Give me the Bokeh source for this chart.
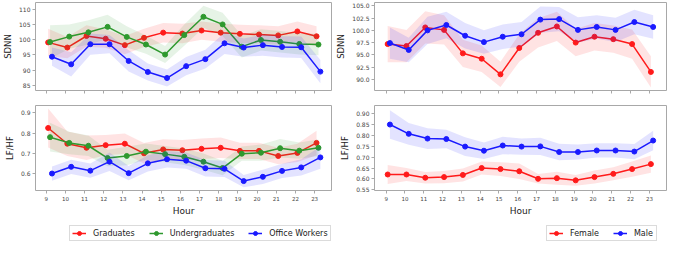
from bokeh.plotting import figure
from bokeh.layouts import row, column
from bokeh.models import Legend, LegendItem, Range1d, FixedTicker, NumeralTickFormatter
from bokeh.embed import file_html
from bokeh.resources import INLINE

hours = list(range(9, 24))

# ---- Left: population groups ----
grad_sdnn = [99.1, 97.4, 101.2, 100.3, 98.2, 100.6, 102.3, 102.0, 103.0, 102.3, 101.9, 101.7, 101.4, 102.7, 101.1]
grad_sdnn_ci = [4.5, 3.5, 3.5, 3.0, 3.0, 3.0, 3.2, 3.2, 3.0, 3.0, 3.0, 3.0, 3.0, 3.3, 3.3]
ugrad_sdnn = [99.2, 101.0, 102.4, 104.2, 100.9, 98.4, 95.1, 101.5, 107.5, 105.0, 97.7, 99.9, 99.3, 98.6, 98.4]
ugrad_sdnn_ci = [5.5, 4.0, 4.0, 4.0, 3.5, 3.0, 2.8, 3.5, 3.6, 3.8, 3.6, 3.5, 3.5, 3.5, 3.5]
office_sdnn = [94.4, 91.9, 98.5, 98.5, 93.0, 89.4, 87.4, 91.3, 93.6, 98.8, 97.4, 98.2, 97.6, 97.5, 89.5]
office_sdnn_ci = [3.0, 4.0, 3.5, 3.0, 3.5, 2.8, 2.8, 3.0, 3.1, 3.5, 3.0, 3.5, 3.5, 3.5, 3.8]

grad_lfhf = [0.825, 0.748, 0.728, 0.741, 0.748, 0.701, 0.720, 0.716, 0.723, 0.728, 0.713, 0.713, 0.688, 0.703, 0.752]
grad_lfhf_ci = [0.095, 0.06, 0.06, 0.05, 0.05, 0.05, 0.05, 0.05, 0.05, 0.05, 0.04, 0.04, 0.04, 0.045, 0.06]
ugrad_lfhf = [0.780, 0.752, 0.738, 0.678, 0.688, 0.709, 0.697, 0.684, 0.660, 0.629, 0.699, 0.704, 0.726, 0.714, 0.728]
ugrad_lfhf_ci = [0.07, 0.055, 0.05, 0.04, 0.045, 0.04, 0.04, 0.04, 0.04, 0.035, 0.035, 0.04, 0.045, 0.04, 0.04]
office_lfhf = [0.602, 0.635, 0.616, 0.660, 0.604, 0.652, 0.672, 0.665, 0.628, 0.625, 0.565, 0.586, 0.615, 0.632, 0.681]
office_lfhf_ci = [0.035, 0.035, 0.035, 0.045, 0.035, 0.04, 0.04, 0.04, 0.04, 0.04, 0.03, 0.035, 0.035, 0.04, 0.055]

# ---- Right: gender ----
female_sdnn = [97.2, 96.8, 100.6, 100.1, 95.3, 94.2, 91.0, 96.4, 99.5, 100.8, 97.5, 98.7, 98.2, 97.2, 91.5]
female_sdnn_ci = [3.7, 3.3, 3.3, 3.0, 2.8, 2.7, 2.6, 2.8, 3.0, 3.0, 2.8, 2.8, 2.8, 3.0, 3.2]
male_sdnn = [97.4, 96.0, 100.0, 101.1, 98.9, 97.6, 98.7, 99.2, 102.2, 102.3, 100.1, 100.7, 100.1, 101.7, 100.7]
male_sdnn_ci = [3.2, 2.5, 2.8, 2.7, 2.6, 2.4, 2.5, 2.5, 2.7, 2.5, 2.6, 2.4, 2.5, 2.5, 2.4]

female_lfhf = [0.620, 0.620, 0.605, 0.608, 0.618, 0.650, 0.645, 0.635, 0.600, 0.603, 0.593, 0.608, 0.623, 0.645, 0.668]
female_lfhf_ci = [0.044, 0.03, 0.027, 0.028, 0.03, 0.03, 0.032, 0.036, 0.022, 0.03, 0.025, 0.03, 0.03, 0.035, 0.04]
male_lfhf = [0.851, 0.808, 0.786, 0.784, 0.749, 0.730, 0.754, 0.749, 0.750, 0.724, 0.724, 0.731, 0.731, 0.726, 0.777]
male_lfhf_ci = [0.066, 0.05, 0.048, 0.043, 0.043, 0.038, 0.04, 0.038, 0.04, 0.038, 0.035, 0.033, 0.033, 0.035, 0.045]

left_labels = ["Graduates", "Undergraduates", "Office Workers"]
right_labels = ["Female", "Male"]

RED = "#ff1a1a"
GREEN = "#2e992e"
BLUE = "#1a1aff"
FONT = "DejaVu Sans"
FRAME = "#a8a8a8"
TICKTXT = "#444444"


def panel(w, h, xr, yr, bl, br, bt, bb, yticks, yfmt, ylabel, show_x, xlabel=None):
    p = figure(width=w, height=h, x_range=Range1d(*xr), y_range=Range1d(*yr),
               output_backend="svg", toolbar_location=None,
               min_border_left=bl, min_border_right=br, min_border_top=bt, min_border_bottom=bb)
    p.grid.visible = False
    p.outline_line_color = FRAME
    p.outline_line_width = 1
    p.background_fill_color = "white"
    p.border_fill_color = "white"
    for ax in (p.xaxis[0], p.yaxis[0]):
        ax.axis_line_color = None
        ax.major_tick_line_color = FRAME
        ax.major_tick_out = 3
        ax.major_tick_in = 0
        ax.minor_tick_line_color = None
        ax.major_label_text_font = FONT
        ax.major_label_text_color = TICKTXT
        ax.major_label_standoff = 2
        ax.axis_label_text_font = FONT
        ax.axis_label_text_font_style = "normal"
        ax.axis_label_text_color = "#222222"
    p.xaxis.ticker = FixedTicker(ticks=hours)
    p.xaxis.major_label_text_font_size = "5.5px"
    if not show_x:
        p.xaxis.major_label_overrides = {hh: "" for hh in hours}
        p.xaxis.major_label_text_font_size = "1px"
        p.xaxis.major_label_standoff = 0
    else:
        p.xaxis.axis_label = xlabel
        p.xaxis.axis_label_text_font_size = "9px"
        p.xaxis.axis_label_standoff = 2
    p.yaxis.ticker = FixedTicker(ticks=yticks)
    p.yaxis.formatter = NumeralTickFormatter(format=yfmt)
    p.yaxis.major_label_text_font_size = "6px"
    p.yaxis.axis_label = ylabel
    p.yaxis.axis_label_text_font_size = "8.5px"
    p.yaxis.axis_label_standoff = 3
    return p


def draw(p, vals, ci, color, off):
    x = [hh + off for hh in hours]
    lo = [v - c for v, c in zip(vals, ci)]
    hi = [v + c for v, c in zip(vals, ci)]
    p.varea(x=x, y1=lo, y2=hi, fill_color=color, fill_alpha=0.12)
    p.line(x, vals, line_color=color, line_width=1.5)
    p.scatter(x, vals, size=5, fill_color=color, line_color=color)


def legend_fig(w, labels, colors, series, xloc):
    # legend-only figure: proxy renderers reuse the series data but lie outside the view range
    lf = figure(width=w, height=24, x_range=Range1d(0, 1), y_range=Range1d(0, 1),
                output_backend="svg", toolbar_location=None, min_border=0,
                x_axis_location=None, y_axis_location=None)
    lf.grid.visible = False
    lf.outline_line_color = None
    items = []
    for lab, col, vals in zip(labels, colors, series):
        r1 = lf.line(hours, vals, line_color=col, line_width=1.5)
        r2 = lf.scatter(hours, vals, size=5, fill_color=col, line_color=col)
        items.append(LegendItem(label=lab, renderers=[r1, r2]))
    leg = Legend(items=items, location=(xloc, 1), orientation="horizontal",
                 label_text_font=FONT, label_text_font_size="8px", label_text_color="#222222",
                 glyph_width=14, glyph_height=10, label_height=10, label_standoff=7,
                 spacing=14, padding=2, margin=0,
                 border_line_color="#b8b8b8", border_line_width=1,
                 background_fill_alpha=1.0)
    lf.add_layout(leg, "center")
    return lf


LW, RW = 333, 336
xr_left = (8.44, 23.88)
xr_right = (8.38, 23.91)

tl = panel(LW, 97, xr_left, (83.3, 112.2), 28, 2, 2, 7, [85, 90, 95, 100, 105, 110], "0", "SDNN", False)
draw(tl, grad_sdnn, grad_sdnn_ci, RED, 0.1)
draw(tl, ugrad_sdnn, ugrad_sdnn_ci, GREEN, 0.2)
draw(tl, office_sdnn, office_sdnn_ci, BLUE, 0.3)

bl = panel(LW, 121, xr_left, (0.519, 0.935), 28, 2, 8, 25, [0.6, 0.7, 0.8, 0.9], "0.0", "LF/HF", True, "Hour")
draw(bl, grad_lfhf, grad_lfhf_ci, RED, 0.1)
draw(bl, ugrad_lfhf, ugrad_lfhf_ci, GREEN, 0.2)
draw(bl, office_lfhf, office_lfhf_ci, BLUE, 0.3)

tr = panel(RW, 97, xr_right, (87.7, 105.7), 36, 3, 2, 7, [90.0, 92.5, 95.0, 97.5, 100.0, 102.5, 105.0], "0.0", "SDNN", False)
draw(tr, female_sdnn, female_sdnn_ci, RED, 0.08)
draw(tr, male_sdnn, male_sdnn_ci, BLUE, 0.2)

br = panel(RW, 121, xr_right, (0.546, 0.939), 36, 3, 8, 25, [0.55, 0.60, 0.65, 0.70, 0.75, 0.80, 0.85, 0.90], "0.00", "LF/HF", True, "Hour")
draw(br, female_lfhf, female_lfhf_ci, RED, 0.08)
draw(br, male_lfhf, male_lfhf_ci, BLUE, 0.2)

ll = legend_fig(LW, left_labels, [RED, GREEN, BLUE], [grad_lfhf, ugrad_lfhf, office_lfhf], 34)
lr = legend_fig(RW, right_labels, [RED, BLUE], [female_lfhf, male_lfhf], 172)

p = row(column(tl, bl, ll), column(tr, br, lr))

open("out.html", "w").write(file_html(p, INLINE))
